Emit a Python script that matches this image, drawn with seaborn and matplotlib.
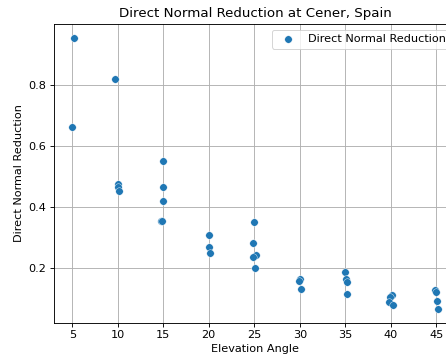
import matplotlib
matplotlib.use("Agg")
import matplotlib.pyplot as plt
import seaborn as sns
import pandas as pd

elevation = [5.2, 5.0, 9.7, 10.0, 10.05, 10.1,
             15.0, 15.0, 14.95, 14.7, 14.9,
             20.0, 20.05, 20.1,
             25.0, 24.85, 25.2, 24.9, 25.1,
             30.05, 29.95, 30.15,
             34.95, 35.1, 35.15, 35.2,
             40.1, 39.9, 39.8, 40.25,
             44.85, 44.95, 45.1, 45.15]
reduction = [0.955, 0.662, 0.820, 0.475, 0.465, 0.452,
             0.551, 0.467, 0.420, 0.355, 0.355,
             0.310, 0.268, 0.251,
             0.352, 0.284, 0.243, 0.235, 0.202,
             0.166, 0.158, 0.133,
             0.188, 0.166, 0.155, 0.117,
             0.111, 0.104, 0.090, 0.079,
             0.130, 0.123, 0.093, 0.065]

df = pd.DataFrame({"Elevation Angle": elevation, "Direct Normal Reduction": reduction})

fig = plt.figure(figsize=(446 / 72, 362 / 72), dpi=72)
ax = fig.add_axes([54 / 446, 39 / 362, 402 / 446, 299 / 362])
sns.scatterplot(data=df, x="Elevation Angle", y="Direct Normal Reduction", ax=ax,
                color="#1f77b4", s=56, edgecolor="white", linewidth=0.4,
                label="Direct Normal Reduction")
ax.set_xticks([5, 10, 15, 20, 25, 30, 35, 40, 45])
ax.set_yticks([0.2, 0.4, 0.6, 0.8])
ax.grid(True, color="#b0b0b0", linewidth=0.9)
ax.set_axisbelow(True)
ax.set_title("Direct Normal Reduction at Cener, Spain", fontsize=13.4, pad=7)
ax.set_xlabel("Elevation Angle", fontsize=11.2, labelpad=4)
ax.set_ylabel("Direct Normal Reduction", fontsize=11.2, labelpad=5)
ax.tick_params(labelsize=11.2, length=4, width=0.9)
for sp in ax.spines.values():
    sp.set_linewidth(0.9)
ax.legend(loc="upper right", fontsize=11.2, markerscale=1.0)
fig.savefig("out.png", dpi=72)
